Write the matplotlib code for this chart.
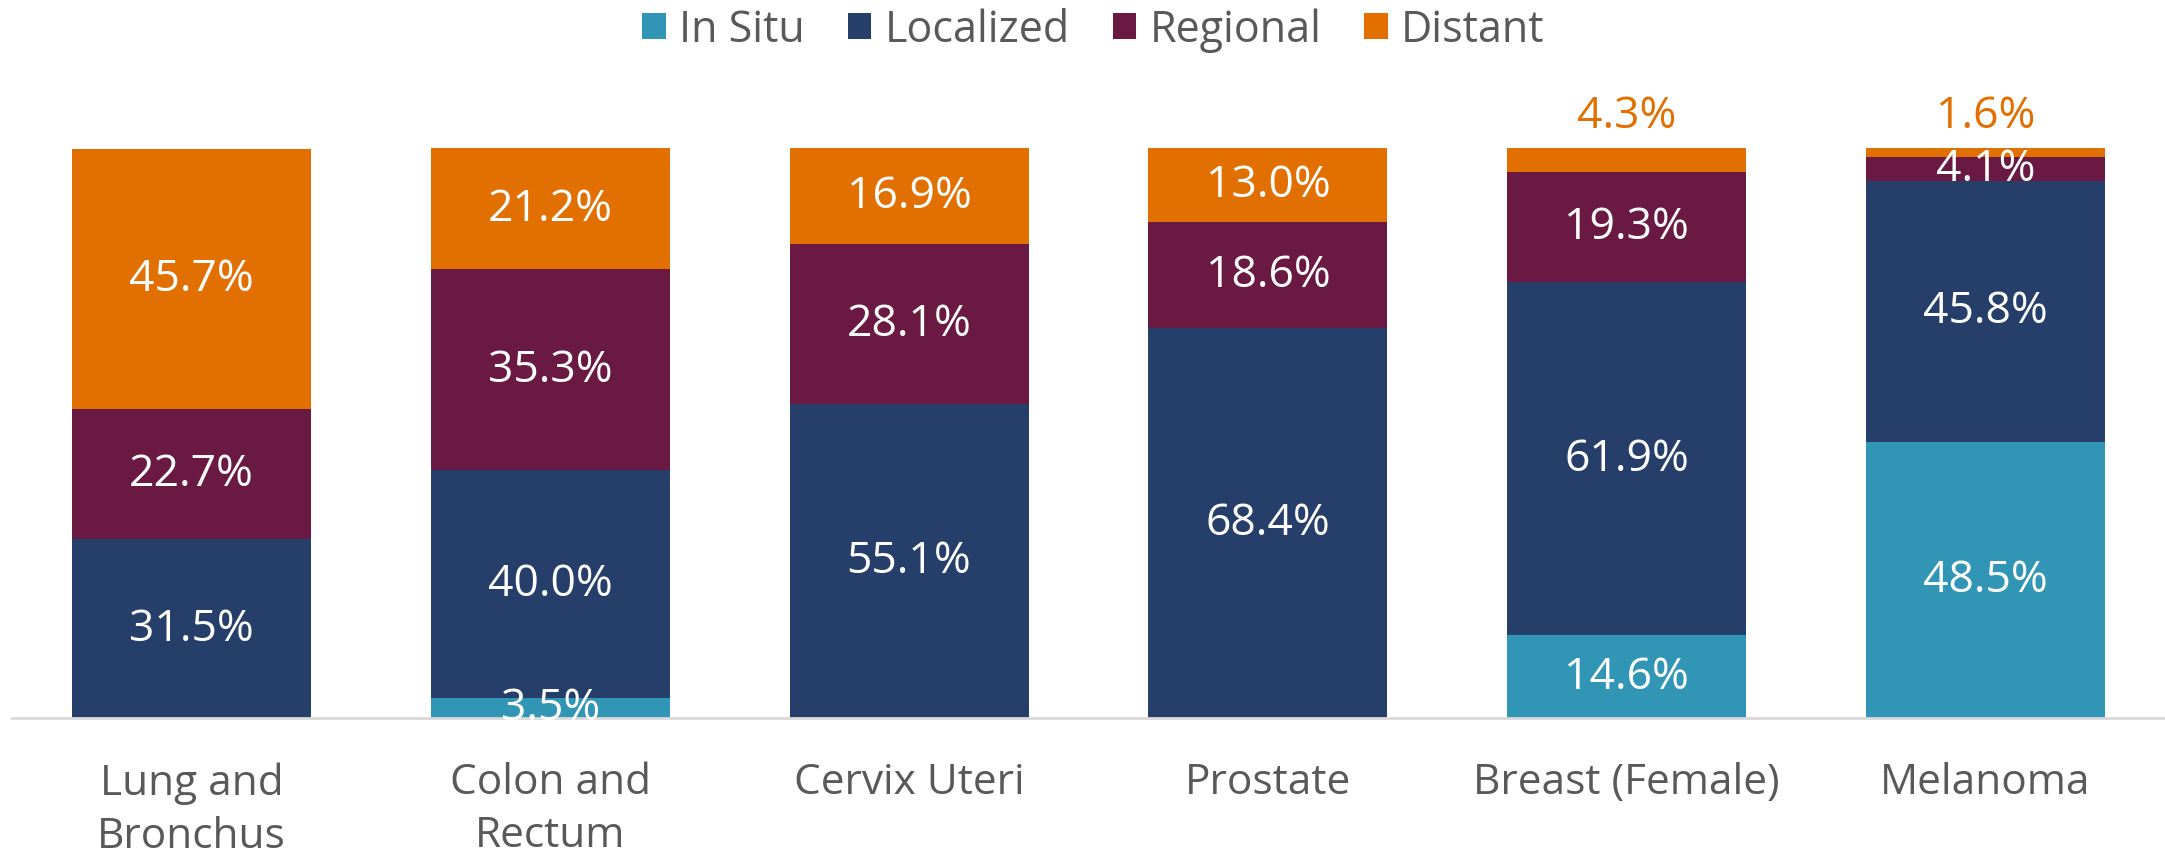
import matplotlib.pyplot as plt
from matplotlib.patches import Patch
import numpy as np

plt.rcParams['font.family'] = ['Open Sans', 'DejaVu Sans']

sites = ['Lung and\nBronchus', 'Colon and\nRectum', 'Cervix Uteri', 'Prostate', 'Breast (Female)', 'Melanoma']
stages = ['In Situ', 'Localized', 'Regional', 'Distant']
in_situ = [0.0, 3.5, 0.0, 0.0, 14.6, 48.5]
localized = [31.5, 40.0, 55.1, 68.4, 61.9, 45.8]
regional = [22.7, 35.3, 28.1, 18.6, 19.3, 4.1]
distant = [45.7, 21.2, 16.9, 13.0, 4.3, 1.6]

colors = ['#3196B5', '#263E6A', '#6A1A42', '#E17000']
text_gray = '#595959'

fig = plt.figure(figsize=(21.65, 8.54), dpi=100)
ax = fig.add_axes([0.0055, 0.158, 0.9945, 0.6675])

x = np.arange(len(sites))
series = [in_situ, localized, regional, distant]
bottom = np.zeros(len(sites))
for vals, col, name in zip(series, colors, stages):
    vals = np.array(vals)
    ax.bar(x, vals, 0.666, bottom=bottom, color=col, label=name)
    for i, v in enumerate(vals):
        if v <= 0:
            continue
        if name == 'Distant' and v < 5:
            # small distant segments get their label above the bar
            ax.annotate(f'{v:.1f}%', (x[i], bottom[i] + v), xytext=(0, 23),
                        textcoords='offset points', ha='center', va='center',
                        color=col, fontsize=32, annotation_clip=False)
        else:
            ax.text(x[i], bottom[i] + v / 2, f'{v:.1f}%', ha='center', va='center',
                    color='white', fontsize=32)
    bottom += vals

ax.set_xlim(-0.5, 5.5)
ax.set_ylim(0, 100)
ax.set_yticks([])
ax.set_xticks(x)
ax.set_xticklabels(sites, fontsize=30.5, color=text_gray, linespacing=1.35)
ax.tick_params(axis='x', length=0, pad=31)
for s in ['top', 'right', 'left']:
    ax.spines[s].set_visible(False)
ax.spines['bottom'].set_color('#D9D9D9')
ax.spines['bottom'].set_linewidth(2)

handles = [Patch(facecolor=c, label=n) for c, n in zip(colors, stages)]
leg = fig.legend(handles=handles, loc='upper center', bbox_to_anchor=(0.505, 1.035), ncol=4,
                 frameon=False, fontsize=31, handlelength=0.55, handleheight=0.55,
                 handletextpad=0.3, columnspacing=1.0)
for t in leg.get_texts():
    t.set_color(text_gray)

fig.savefig('out.png', dpi=100)
